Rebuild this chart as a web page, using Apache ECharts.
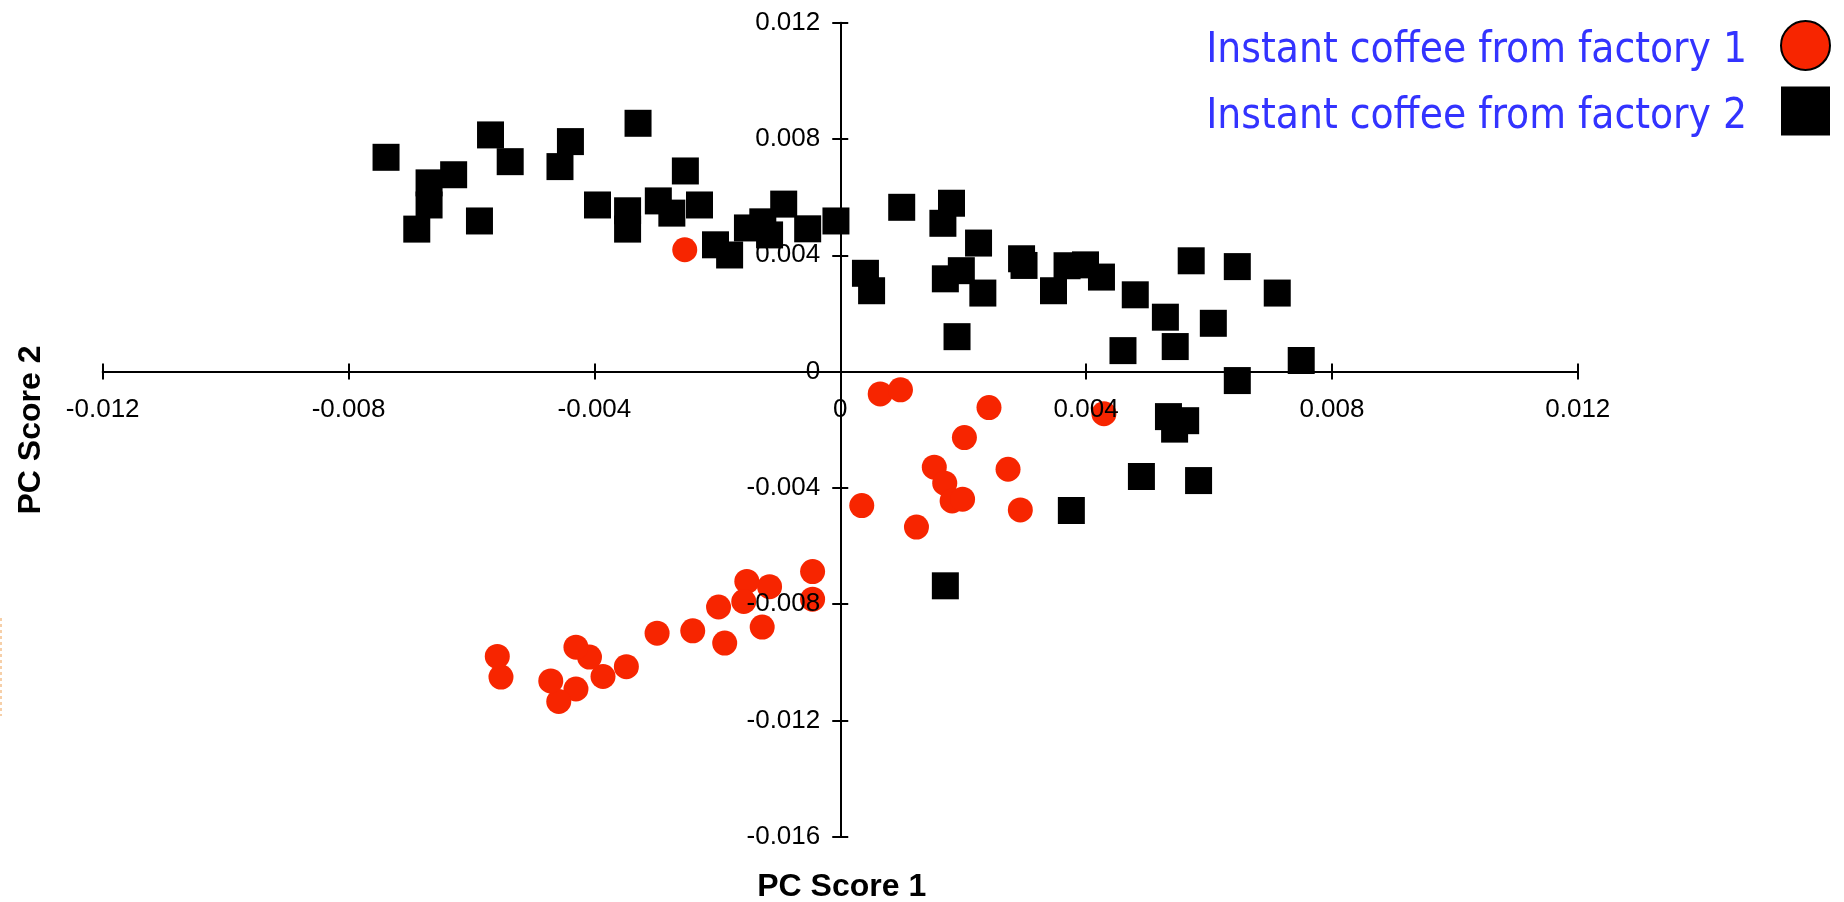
<!DOCTYPE html>
<html>
<head>
<meta charset="utf-8">
<script src="https://cdn.jsdelivr.net/npm/echarts@6/dist/echarts.min.js"></script>
<style>
html,body{margin:0;padding:0;background:#fff;}
#chart{width:1844px;height:902px;}
</style>
</head>
<body>
<div id="chart"></div>
<script>
// ---- data ----
const seriesNames = ['Instant coffee from factory 1', 'Instant coffee from factory 2'];

const factory1X = [-0.00253, 0.00065, 0.00098, 0.00242, 0.00429, 0.00202, 0.00153, 0.0017, 0.00182, 0.00199,
  0.00273, 0.00293, 0.00035, 0.00124, -0.00045, -0.00045, -0.00115, -0.00127, -0.00152, -0.00157,
  -0.00188, -0.00198, -0.0024, -0.00298, -0.00348, -0.00386, -0.00408, -0.0043, -0.0043, -0.00458,
  -0.00471, -0.00552, -0.00558];
const factory1Y = [0.00419, -0.00077, -0.00063, -0.00124, -0.00145, -0.00227, -0.00329, -0.00384, -0.00445, -0.00439,
  -0.00336, -0.00476, -0.00461, -0.00535, -0.00688, -0.00783, -0.0074, -0.00879, -0.00722, -0.00791,
  -0.00934, -0.0081, -0.00892, -0.009, -0.01015, -0.01049, -0.00982, -0.00948, -0.01092, -0.01135,
  -0.01064, -0.01051, -0.0098];

const factory2X = [-0.00739, -0.00569, -0.00537, -0.00629, -0.00669, -0.00669, -0.00689, -0.00587, -0.00439, -0.00456,
  -0.00329, -0.00252, -0.00395, -0.00346, -0.00346, -0.00296, -0.00274, -0.00229, -0.00203, -0.0018,
  -0.00151, -0.00126, -0.00115, -0.00092, -0.00053, -0.00007, 0.00041, 0.00051, 0.001, 0.00181,
  0.00167, 0.00225, 0.00197, 0.00171, 0.00232, 0.0019, 0.00295, 0.00299, 0.00347, 0.00369,
  0.00399, 0.00425, 0.0048, 0.00529, 0.0046, 0.00545, 0.00571, 0.00646, 0.00607, 0.00711,
  0.00646, 0.0075, 0.00534, 0.00562, 0.00544, 0.0049, 0.00583, 0.00376, 0.00171];
const factory2Y = [0.00737, 0.00814, 0.00722, 0.00677, 0.00649, 0.00573, 0.0049, 0.00518, 0.00791, 0.00705,
  0.00854, 0.0069, 0.00573, 0.00553, 0.0049, 0.00587, 0.00545, 0.00573, 0.00436, 0.00401,
  0.00494, 0.00515, 0.0047, 0.00576, 0.00491, 0.00518, 0.00338, 0.00278, 0.00565, 0.00579,
  0.0051, 0.00442, 0.00347, 0.00319, 0.0027, 0.0012, 0.00388, 0.00365, 0.00278, 0.00364,
  0.00367, 0.00325, 0.00264, 0.00187, 0.00072, 0.00086, 0.00381, 0.00361, 0.00166, 0.0027,
  -0.00031, 0.00038, -0.00155, -0.00169, -0.00198, -0.00361, -0.00375, -0.00478, -0.00737];

const xAxisRange = { min: -0.012, max: 0.012, interval: 0.004 };
const yAxisRange = { min: -0.016, max: 0.012, interval: 0.004 };
const axisTitles = { x: 'PC Score 1', y: 'PC Score 2' };

// ---- layout ----
const W = 1844, H = 902;
const G = { left: 102.7, right: 266.2, top: 22.7, bottom: 65.3 };
const plotW = W - G.left - G.right, plotH = H - G.top - G.bottom;
// offsets that bring the axes (line, ticks, labels) to the zero of the other axis
const xZeroFrac = (0 - xAxisRange.min) / (xAxisRange.max - xAxisRange.min);
const yZeroFrac = (yAxisRange.max - 0) / (yAxisRange.max - yAxisRange.min);
const xAxisOffset = -(plotH * (1 - yZeroFrac));
const yAxisOffset = -(plotW * xZeroFrac);

// ---- chart ----
const zip = (xs, ys) => xs.map((x, i) => [x, ys[i]]);
const fmt = v => (Math.abs(v) < 1e-9 ? '0' : v.toFixed(3));
const labelFont = { fontFamily: 'Liberation Sans, Arial, sans-serif', fontSize: 26, color: '#000' };

function makeAxis(range, position, offset, withLabels, inside, labelMargin) {
  return {
    type: 'value', position: position, offset: offset,
    min: range.min, max: range.max, interval: range.interval,
    z: 1,
    splitLine: { show: false },
    axisLine: { show: withLabels, onZero: false, lineStyle: { color: '#000', width: 2 } },
    axisTick: { show: true, inside: inside, length: 8, lineStyle: { color: '#000', width: 2 } },
    axisLabel: Object.assign({ show: withLabels, margin: labelMargin, formatter: fmt, hideOverlap: false }, labelFont)
  };
}

const legendFont = { fontFamily: 'DejaVu Sans Condensed, Liberation Sans, sans-serif', fontSize: 42, color: '#3333ff' };

const chart = echarts.init(document.getElementById('chart'), null, { renderer: 'canvas' });
chart.setOption({
  animation: false,
  backgroundColor: '#fff',
  grid: { left: G.left, right: G.right, top: G.top, bottom: G.bottom, containLabel: false, outerBoundsMode: 'none' },
  xAxis: [
    makeAxis(xAxisRange, 'bottom', xAxisOffset, true, false, 25),
    makeAxis(xAxisRange, 'bottom', xAxisOffset, false, true, 25)
  ],
  yAxis: [
    makeAxis(yAxisRange, 'left', yAxisOffset, true, false, 20),
    makeAxis(yAxisRange, 'left', yAxisOffset, false, true, 20)
  ],
  legend: {
    orient: 'vertical',
    right: 13,
    top: 20,
    padding: 0,
    align: 'right',
    itemWidth: 49,
    itemHeight: 49,
    itemGap: 14,
    formatter: '{t|{name}}',
    textStyle: Object.assign({
      rich: { t: Object.assign({ padding: [12, 29, 0, 0] }, legendFont) }
    }, legendFont),
    data: [
      { name: seriesNames[0], icon: 'circle', itemStyle: { color: '#f72500', borderColor: '#000', borderWidth: 2 } },
      { name: seriesNames[1], icon: 'rect', itemStyle: { color: '#000' } }
    ]
  },
  graphic: [
    { type: 'text', x: 841.7, y: 887,
      style: { text: axisTitles.x, fontFamily: 'Liberation Sans, Arial, sans-serif', fontWeight: 'bold', fontSize: 32, fill: '#000', align: 'center', verticalAlign: 'middle' } },
    { type: 'text', x: 31, y: 430, rotation: Math.PI / 2,
      style: { text: axisTitles.y, fontFamily: 'Liberation Sans, Arial, sans-serif', fontWeight: 'bold', fontSize: 32, fill: '#000', align: 'center', verticalAlign: 'middle' } },
    { type: 'line', silent: true,
      shape: { x1: 1, y1: 618, x2: 1, y2: 716 },
      style: { stroke: '#f6cfa8', lineWidth: 2, lineDash: [3, 3] } }
  ],
  series: [
    {
      name: seriesNames[0], type: 'scatter', symbol: 'circle', symbolSize: 25, z: 0,
      itemStyle: { color: '#f72500', opacity: 1 },
      data: zip(factory1X, factory1Y)
    },
    {
      name: seriesNames[1], type: 'scatter', symbol: 'rect', symbolSize: 27, z: 2,
      itemStyle: { color: '#000', opacity: 1 },
      data: zip(factory2X, factory2Y)
    }
  ]
});
</script>
</body>
</html>
